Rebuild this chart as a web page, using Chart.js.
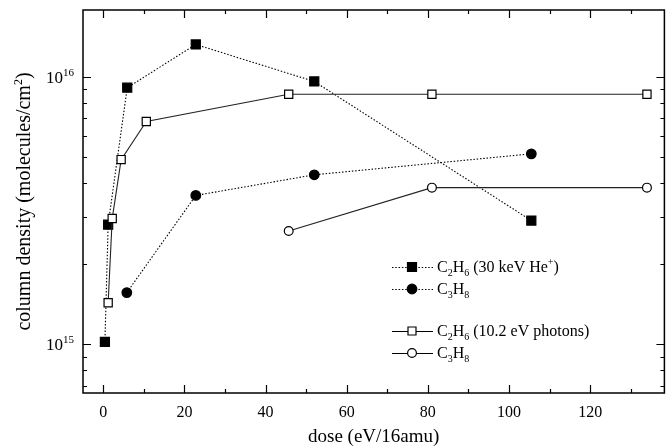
<!DOCTYPE html>
<html>
<head>
<meta charset="utf-8">
<script src="https://cdn.jsdelivr.net/npm/chart.js@4/dist/chart.umd.min.js"></script>
<style>
html,body{margin:0;padding:0;background:#fff;}
canvas{display:block;}
</style>
</head>
<body>
<canvas id="c" width="672" height="448"></canvas>
<script>
// ---- data ----
const doseIonC2H6 = [0.4, 1.2, 5.9, 22.8, 52, 105.5];
const ionC2H6 = [1.02e15, 2.8e15, 9.1e15, 1.32e16, 9.6e15, 2.9e15];
const doseIonC3H8 = [5.8, 22.8, 52, 105.5];
const ionC3H8 = [1.56e15, 3.6e15, 4.3e15, 5.15e15];
const dosePhC2H6 = [1.2, 2.2, 4.4, 10.6, 45.7, 81, 134];
const phC2H6 = [1.43e15, 2.95e15, 4.9e15, 6.8e15, 8.6e15, 8.6e15, 8.6e15];
const dosePhC3H8 = [45.7, 81, 134];
const phC3H8 = [2.65e15, 3.85e15, 3.85e15];

const xMajorTicks = [0, 20, 40, 60, 80, 100, 120];
const xMinorTicks = [10, 30, 50, 70, 90, 110, 130];
const yMajorTicks = [1e15, 1e16];
const yMajorExp = ['15', '16'];
const yMinorTicks = [7e14, 8e14, 9e14, 2e15, 3e15, 4e15, 5e15, 6e15, 7e15, 8e15, 9e15];

const legendItems = [
  {parts: [['C'], ['2', 'sub'], ['H'], ['6', 'sub'], [' (30 keV He'], ['+', 'sup'], [')']], marker: 'rect', fill: true, dash: true},
  {parts: [['C'], ['3', 'sub'], ['H'], ['8', 'sub']], marker: 'circle', fill: true, dash: true},
  {parts: [['C'], ['2', 'sub'], ['H'], ['6', 'sub'], [' (10.2 eV photons)']], marker: 'rect', fill: false, dash: false},
  {parts: [['C'], ['3', 'sub'], ['H'], ['8', 'sub']], marker: 'circle', fill: false, dash: false}
];

const SERIF = '"Liberation Serif", "Times New Roman", serif';

function pts(xs, ys) { return xs.map((x, i) => ({x: x, y: ys[i]})); }

function richText(ctx, parts, x, y, size, align) {
  // parts: [text, kind]; y is baseline
  const segs = parts.map(p => {
    const k = p[1] || 'n';
    const s = k === 'n' ? size : Math.round(size * 0.62);
    ctx.font = s + 'px ' + SERIF;
    return {t: p[0], s: s, k: k, w: ctx.measureText(p[0]).width};
  });
  const total = segs.reduce((a, b) => a + b.w, 0);
  let cx = align === 'right' ? x - total : (align === 'center' ? x - total / 2 : x);
  ctx.textAlign = 'left';
  ctx.textBaseline = 'alphabetic';
  segs.forEach(sg => {
    ctx.font = sg.s + 'px ' + SERIF;
    let dy = 0;
    if (sg.k === 'sub') dy = size * 0.28;
    if (sg.k === 'sup') dy = -size * 0.42;
    ctx.fillText(sg.t, cx, y + dy);
    cx += sg.w;
  });
  return total;
}

function drawMarker(ctx, kind, fill, x, y) {
  ctx.save();
  ctx.lineWidth = 1.2;
  ctx.strokeStyle = '#000';
  ctx.fillStyle = fill ? '#000' : '#fff';
  ctx.setLineDash([]);
  ctx.beginPath();
  if (kind === 'rect') {
    const h = fill ? 4.5 : 4;
    ctx.rect(x - h, y - h, 2 * h, 2 * h);
  } else {
    ctx.arc(x, y, fill ? 4.8 : 4.4, 0, Math.PI * 2);
  }
  ctx.fill();
  ctx.stroke();
  ctx.restore();
}

const framePlugin = {
  id: 'frame',
  afterDraw(chart) {
    const ctx = chart.ctx;
    const a = chart.chartArea;
    const xs = chart.scales.x, ys = chart.scales.y;
    ctx.save();
    ctx.strokeStyle = '#000';
    ctx.fillStyle = '#000';
    ctx.setLineDash([]);
    // frame
    ctx.lineWidth = 1.5;
    ctx.strokeRect(a.left, a.top, a.right - a.left, a.bottom - a.top);
    // ticks (inward, mirrored)
    ctx.lineWidth = 1.2;
    ctx.beginPath();
    xMajorTicks.forEach(v => {
      const px = Math.round(xs.getPixelForValue(v)) + 0.5;
      ctx.moveTo(px, a.bottom); ctx.lineTo(px, a.bottom - 8);
      ctx.moveTo(px, a.top); ctx.lineTo(px, a.top + 8);
    });
    xMinorTicks.forEach(v => {
      const px = Math.round(xs.getPixelForValue(v)) + 0.5;
      ctx.moveTo(px, a.bottom); ctx.lineTo(px, a.bottom - 4);
      ctx.moveTo(px, a.top); ctx.lineTo(px, a.top + 4);
    });
    yMajorTicks.forEach(v => {
      const py = Math.round(ys.getPixelForValue(v)) + 0.5;
      ctx.moveTo(a.left, py); ctx.lineTo(a.left + 8, py);
      ctx.moveTo(a.right, py); ctx.lineTo(a.right - 8, py);
    });
    yMinorTicks.forEach(v => {
      const py = Math.round(ys.getPixelForValue(v)) + 0.5;
      ctx.moveTo(a.left, py); ctx.lineTo(a.left + 4, py);
      ctx.moveTo(a.right, py); ctx.lineTo(a.right - 4, py);
    });
    ctx.stroke();
    // x tick labels
    ctx.font = '16px ' + SERIF;
    ctx.textAlign = 'center';
    ctx.textBaseline = 'middle';
    xMajorTicks.forEach(v => {
      ctx.fillText(String(v), xs.getPixelForValue(v), a.bottom + 20);
    });
    // y tick labels
    yMajorTicks.forEach((v, i) => {
      const py = ys.getPixelForValue(v);
      richText(ctx, [['10'], [yMajorExp[i], 'sup']], a.left - 9, py + 6, 17, 'right');
    });
    // x title
    ctx.font = '19px ' + SERIF;
    ctx.textAlign = 'center';
    ctx.textBaseline = 'middle';
    ctx.fillText('dose (eV/16amu)', (a.left + a.right) / 2, 437);
    // y title
    ctx.save();
    ctx.translate(30, (a.top + a.bottom) / 2);
    ctx.rotate(-Math.PI / 2);
    richText(ctx, [['column density (molecules/cm'], ['2', 'sup'], [')']], 0, 0, 20, 'center');
    ctx.restore();
    // legend
    const rows = [267, 289, 331, 353];
    legendItems.forEach((it, i) => {
      const y = rows[i];
      ctx.save();
      ctx.lineWidth = 1.1;
      ctx.setLineDash(it.dash ? [1.5, 1.8] : []);
      ctx.beginPath();
      ctx.moveTo(392, y + 0.5); ctx.lineTo(433, y + 0.5);
      ctx.stroke();
      ctx.restore();
      drawMarker(ctx, it.marker, it.fill, 412, y);
      ctx.fillStyle = '#000';
      richText(ctx, it.parts, 437, y + 5, 16, 'left');
    });
    ctx.restore();
  }
};

const common = {showLine: true, borderColor: '#000', borderWidth: 1.1, pointBorderColor: '#000', pointBorderWidth: 1.2, pointHoverRadius: 0, clip: false};

new Chart(document.getElementById('c'), {
  type: 'scatter',
  data: {
    datasets: [
      Object.assign({}, common, {label: 'C2H6 (10.2 eV photons)', data: pts(dosePhC2H6, phC2H6), pointStyle: 'rect', pointRadius: 5.8, pointBackgroundColor: '#fff', borderColor: '#222'}),
      Object.assign({}, common, {label: 'C3H8 (10.2 eV photons)', data: pts(dosePhC3H8, phC3H8), pointStyle: 'circle', pointRadius: 4.4, pointBackgroundColor: '#fff', borderColor: '#222'}),
      Object.assign({}, common, {label: 'C2H6 (30 keV He+)', data: pts(doseIonC2H6, ionC2H6), pointStyle: 'rect', pointRadius: 6.4, pointBackgroundColor: '#000', borderDash: [1.5, 1.8]}),
      Object.assign({}, common, {label: 'C3H8 (30 keV He+)', data: pts(doseIonC3H8, ionC3H8), pointStyle: 'circle', pointRadius: 4.8, pointBackgroundColor: '#000', borderDash: [1.5, 1.8]})
    ]
  },
  options: {
    responsive: false,
    devicePixelRatio: 1,
    animation: false,
    events: [],
    layout: {padding: {left: 83, top: 10, right: 3, bottom: 55}},
    plugins: {legend: {display: false}, tooltip: {enabled: false}},
    scales: {
      x: {type: 'linear', min: -5.0, max: 138.3, display: false},
      y: {type: 'logarithmic', min: 6.574e14, max: 1.776e16, display: false}
    }
  },
  plugins: [framePlugin]
});
</script>
</body>
</html>
